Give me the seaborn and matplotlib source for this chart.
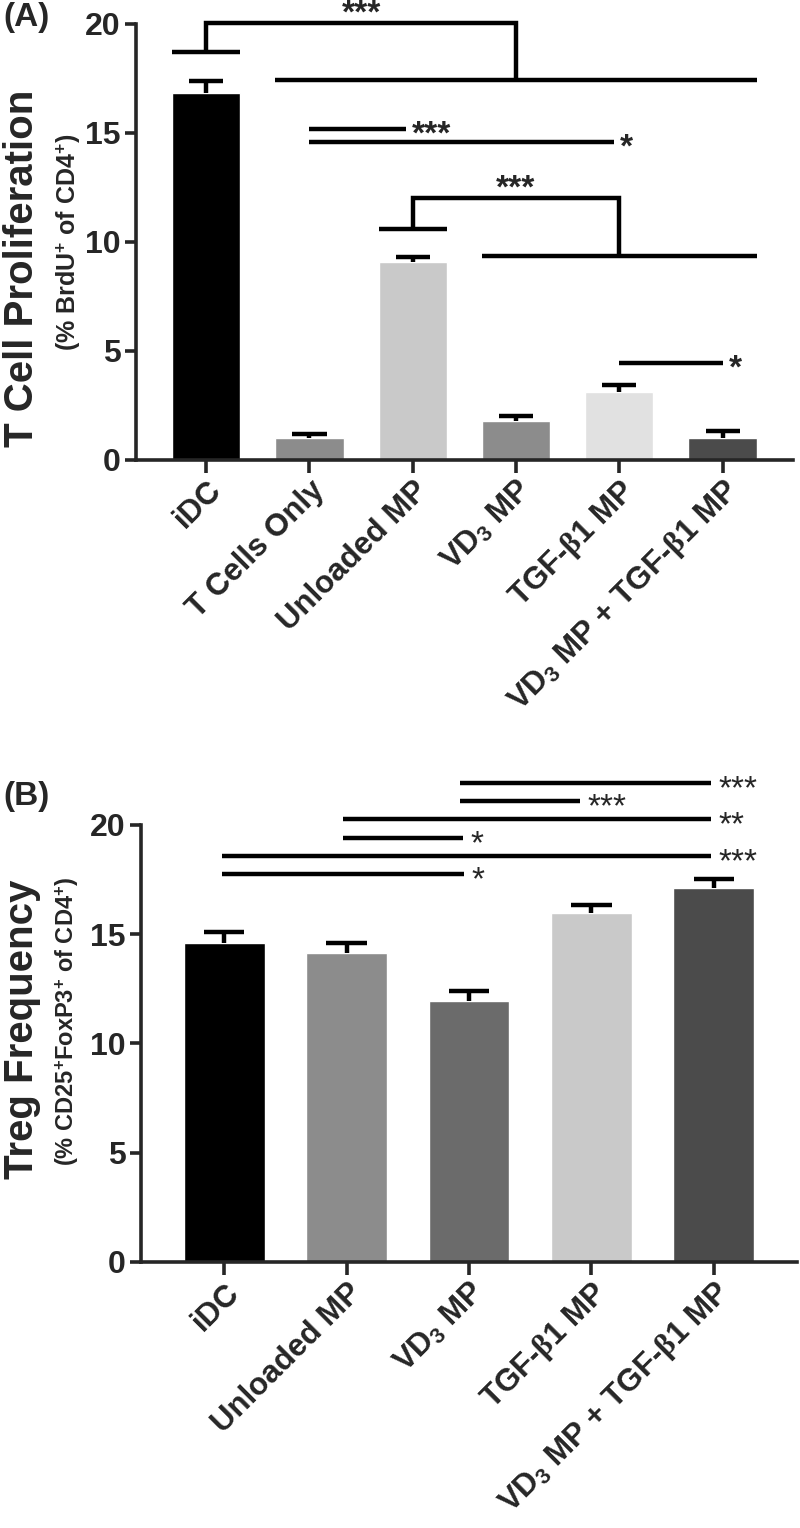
import pandas as pd
import matplotlib
matplotlib.use("Agg")
import matplotlib.pyplot as plt
import seaborn as sns

# ---- data ----
VD3 = r"VD$_{3}$ MP"
TGF = r"TGF-$\beta$1 MP"
COMBO = r"VD$_{3}$ MP + TGF-$\beta$1 MP"

groups_a = ["iDC", "T Cells Only", "Unloaded MP", VD3, TGF, COMBO]
prolif_mean = [16.85, 1.0, 9.1, 1.8, 3.1, 1.0]
prolif_sem = [0.55, 0.2, 0.2, 0.22, 0.33, 0.32]
colors_a = ["#000000", "#8c8c8c", "#c9c9c9", "#8c8c8c", "#e1e1e1", "#4b4b4b"]

groups_b = ["iDC", "Unloaded MP", VD3, TGF, COMBO]
treg_mean = [14.6, 14.15, 11.95, 15.95, 17.1]
treg_sem = [0.5, 0.45, 0.45, 0.4, 0.45]
colors_b = ["#000000", "#8c8c8c", "#6b6b6b", "#c9c9c9", "#4b4b4b"]

# panel A brackets: left group, right group span, left arm y, right line y, top y, label
brackets_a = [
    (0, (1, 5), 18.7, 17.45, 20.05, "***"),
    (2, (3, 5), 10.6, 9.36, 12.0, "***"),
]
# simple comparison lines: x start, x end, y, label
lines_a = [
    (1, 1.93, 15.2, "***"),
    (1, 3.95, 14.6, "*"),
    (4, 5.0, 4.45, "*"),
]
lines_b = [
    (1.93, 3.98, 21.9, "***"),
    (1.93, 2.91, 21.1, "***"),
    (0.97, 3.98, 20.27, "**"),
    (0.97, 1.95, 19.4, "*"),
    (-0.02, 3.98, 18.58, "***"),
    (-0.02, 1.96, 17.76, "*"),
]

sns.set_style("ticks")
plt.rcParams["font.family"] = ["Liberation Sans", "DejaVu Sans"]
plt.rcParams["font.weight"] = "bold"
plt.rcParams["mathtext.fontset"] = "custom"
plt.rcParams["mathtext.rm"] = "Liberation Sans"
plt.rcParams["mathtext.it"] = "Liberation Serif"
plt.rcParams["mathtext.bf"] = "Liberation Sans:bold"

BAR_W = 0.66
LW = 3.2


def draw_bars(ax, groups, means, sems, colors):
    df = pd.DataFrame({"group": groups, "value": means})
    sns.barplot(data=df, x="group", y="value", hue="group", palette=colors,
                legend=False, saturation=1, width=BAR_W, errorbar=None, ax=ax)
    xs = list(range(len(groups)))
    tops = [m + s for m, s in zip(means, sems)]
    ax.vlines(xs, means, tops, color="black", lw=LW)
    ax.hlines(tops, [x - 0.165 for x in xs], [x + 0.165 for x in xs], color="black", lw=LW)

    ax.set_ylim(0, 20)
    ax.set_yticks([0, 5, 10, 15, 20])
    ax.set_xlim(-0.68, len(groups) - 1 + 0.68)
    ax.set_xlabel("")
    ax.set_ylabel("")
    sns.despine(ax=ax)
    for side in ["left", "bottom"]:
        ax.spines[side].set_linewidth(2.6)
    ax.tick_params(axis="both", width=2.6, length=8, labelsize=23, pad=3)
    ax.tick_params(axis="x", length=9, pad=2)
    ax.set_xticks(xs)
    ax.set_xticklabels(groups, rotation=45, ha="right", rotation_mode="anchor",
                       fontsize=22.5, fontweight="bold")
    for lbl in ax.get_yticklabels():
        lbl.set_fontweight("bold")


def sig_line(ax, x0, x1, y, label, bold=True):
    ax.plot([x0, x1], [y, y], color="black", lw=LW, solid_capstyle="butt", clip_on=False)
    ax.text(x1 + 0.06, y - 0.3, label, ha="left", va="center", fontsize=24,
            fontweight="bold" if bold else "normal", clip_on=False)


fig = plt.figure(figsize=(8, 15.28), dpi=100)

# ---- panel A ----
ax_a = fig.add_axes([0.17, 0.699, 0.821, 0.2853])
draw_bars(ax_a, groups_a, prolif_mean, prolif_sem, colors_a)
for left, (r0, r1), y_left, y_right, y_top, label in brackets_a:
    xr = (r0 - BAR_W / 2 + r1 + BAR_W / 2) / 2
    kw = dict(color="black", lw=LW, solid_capstyle="butt", solid_joinstyle="miter", clip_on=False)
    ax_a.plot([left - BAR_W / 2, left + BAR_W / 2], [y_left, y_left], **kw)
    ax_a.plot([left, left, xr, xr], [y_left, y_top, y_top, y_right], **kw)
    ax_a.plot([r0 - BAR_W / 2, r1 + BAR_W / 2], [y_right, y_right], **kw)
    ax_a.text((left + xr) / 2, y_top + 0.42, label, ha="center", va="center",
              fontsize=24, fontweight="bold", clip_on=False)
for x0, x1, y, label in lines_a:
    sig_line(ax_a, x0, x1, y, label)

ax_a.text(-0.1735, 0.44, "T Cell Proliferation", transform=ax_a.transAxes, rotation=90,
          ha="center", va="center", fontsize=29, fontweight="bold")
ax_a.text(-0.1035, 0.5, r"(% BrdU$^{\mathbf{+}}$ of CD4$^{\mathbf{+}}$)", transform=ax_a.transAxes,
          rotation=90, ha="center", va="center", fontsize=18, fontweight="bold")
fig.text(0.004, 0.999, "(A)", ha="left", va="top", fontsize=24, fontweight="bold")

# ---- panel B ----
ax_b = fig.add_axes([0.17625, 0.1741, 0.82, 0.286])
draw_bars(ax_b, groups_b, treg_mean, treg_sem, colors_b)
for x0, x1, y, label in lines_b:
    sig_line(ax_b, x0, x1, y, label, bold=False)

ax_b.text(-0.181, 0.533, "Treg Frequency", transform=ax_b.transAxes, rotation=90,
          ha="center", va="center", fontsize=29, fontweight="bold")
ax_b.text(-0.114, 0.55, r"(% CD25$^{\mathbf{+}}$FoxP3$^{\mathbf{+}}$ of CD4$^{\mathbf{+}}$)",
          transform=ax_b.transAxes, rotation=90, ha="center", va="center",
          fontsize=17, fontweight="bold")
fig.text(0.004, 0.489, "(B)", ha="left", va="top", fontsize=24, fontweight="bold")

fig.savefig("out.png", dpi=100)
